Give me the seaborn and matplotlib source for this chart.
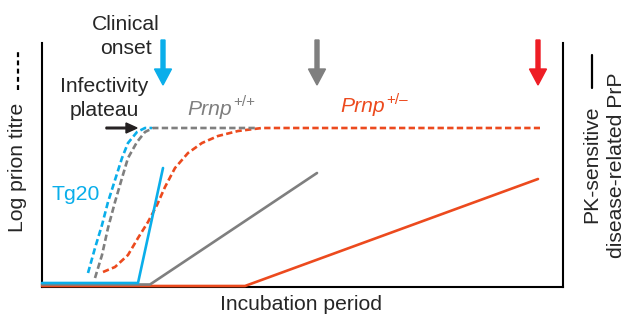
import matplotlib
matplotlib.use("Agg")
import matplotlib.pyplot as plt
import seaborn as sns
from matplotlib.lines import Line2D

# infectivity (log prion titre)
tg20_titre_x = [46, 53, 60, 66, 73, 80, 86, 95, 103, 110]
tg20_titre_y = [14, 39, 62, 85, 107, 129, 144, 155, 159, 159]
wt_titre_x = [53, 60, 66, 73, 80, 86, 95, 103, 111, 216]
wt_titre_y = [9, 32, 59, 85, 109, 129, 145, 155, 159, 159]
het_titre_x = [61, 73, 86, 96, 106, 115, 123, 133, 146, 160, 176, 196, 220, 498]
het_titre_y = [15, 20, 32, 49, 65, 82, 100, 119, 134, 144, 151, 156, 159, 159]

# PK-sensitive disease-related PrP
tg20_prp_x = [0, 96, 121]
tg20_prp_y = [4, 4, 119]
wt_prp_x = [0, 108, 275]
wt_prp_y = [2.5, 2.5, 114]
het_prp_x = [0, 203, 496]
het_prp_y = [1, 1, 108]

# clinical onset per line
onset_x = [121, 275, 496]

CYAN = "#0AAEEA"
GRAY = "#7F7F7F"
ORANGE = "#EC4A1E"
RED = "#EE1D25"

sns.set_style("ticks")
plt.rcParams["font.family"] = ["Liberation Sans", "DejaVu Sans"]
plt.rcParams["font.size"] = 15.2

fig = plt.figure(figsize=(6.28, 3.16), dpi=100)
W, H = 628, 316
ax = fig.add_axes([42 / W, 29 / H, 521 / W, 244 / H])

dash = (0, (2.4, 1.25))
for xs, ys, c in [(het_titre_x, het_titre_y, ORANGE),
                  (wt_titre_x, wt_titre_y, GRAY),
                  (tg20_titre_x, tg20_titre_y, CYAN)]:
    sns.lineplot(x=xs, y=ys, ax=ax, color=c, linewidth=1.9, linestyle=dash,
                 sort=False, estimator=None, clip_on=False, zorder=3)

for xs, ys, c in [(het_prp_x, het_prp_y, ORANGE),
                  (wt_prp_x, wt_prp_y, GRAY),
                  (tg20_prp_x, tg20_prp_y, CYAN)]:
    sns.lineplot(x=xs, y=ys, ax=ax, color=c, linewidth=1.9,
                 sort=False, estimator=None, clip_on=False, zorder=3)

ax.set_xlim(0, 521)
ax.set_ylim(0, 244)
ax.set_xticks([])
ax.set_yticks([])
sns.despine(ax=ax, top=True, right=False)
for s in ["left", "right", "bottom"]:
    ax.spines[s].set_linewidth(1.5)
    ax.spines[s].set_color("black")

# onset arrows
for x, c in zip(onset_x, [CYAN, GRAY, RED]):
    ax.arrow(x, 247, 0, -45, width=4, head_width=17, head_length=16,
             length_includes_head=True, color=c, clip_on=False, zorder=4)

# plateau arrow
ax.arrow(64, 159, 31, 0, width=1.6, head_width=10, head_length=11,
         length_includes_head=True, color="#231F20", clip_on=False, zorder=4)

ax.text(84, 250.5, "Clinical\nonset", ha="center", va="center", linespacing=1.3)
ax.text(62.5, 188.5, "Infectivity\nplateau", ha="center", va="center", linespacing=1.3)
ax.text(34, 92, "Tg20", ha="center", va="center", color=CYAN)

t1 = ax.text(145, 172, "Prnp", style="italic", color=GRAY, va="baseline")
ax.annotate("+/+", xy=(1, 0), xycoords=t1, xytext=(1.5, 9), textcoords="offset points",
            fontsize=11, color=GRAY, va="baseline")
t2 = ax.text(298, 175, "Prnp", style="italic", color=ORANGE, va="baseline")
ax.annotate("+/\u2013", xy=(1, 0), xycoords=t2, xytext=(1.5, 9), textcoords="offset points",
            fontsize=11, color=ORANGE, va="baseline")

fig.text(301 / W, 1 - 304 / H, "Incubation period", ha="center", va="center")

fig.text(18 / W, 1 - 167 / H, "Log prion titre", rotation=90, ha="center", va="center")
fig.add_artist(Line2D([18 / W, 18 / W], [1 - 90 / H, 1 - 52 / H], color="black",
                      linewidth=1.6, linestyle=(0, (2.2, 1.5))))

fig.text(592 / W, 1 - 164 / H, "PK-sensitive", rotation=90, ha="center", va="center")
fig.text(617 / W, 1 - 165 / H, "disease-related PrP", rotation=90, ha="center", va="center")
fig.add_artist(Line2D([592 / W, 592 / W], [1 - 88 / H, 1 - 55 / H], color="black",
                      linewidth=1.6))

fig.savefig("out.png", dpi=100)
